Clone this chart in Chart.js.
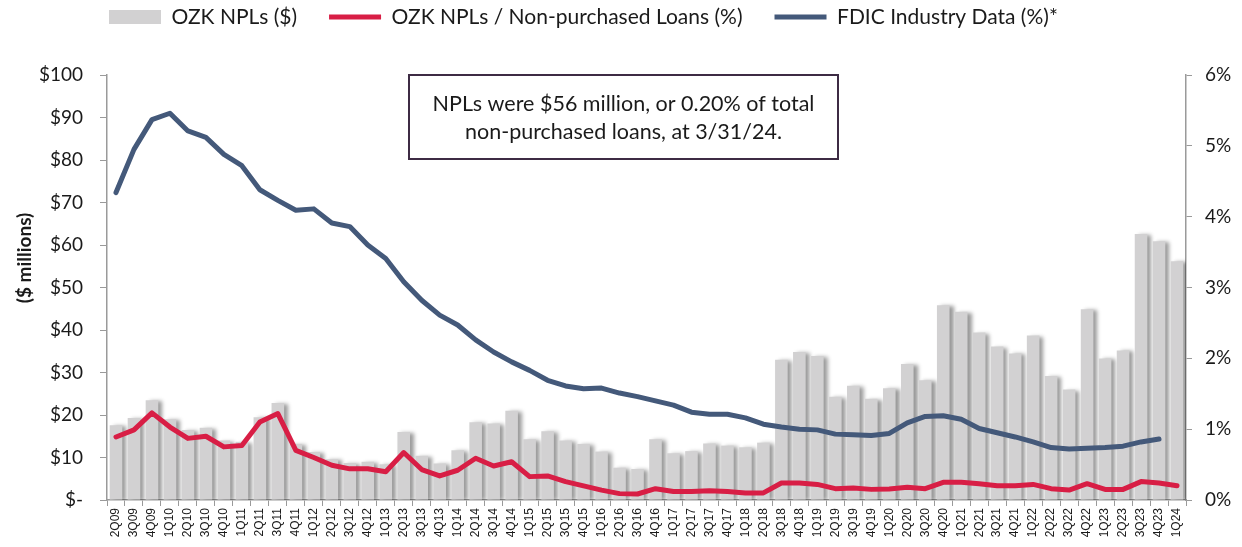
<!DOCTYPE html>
<html>
<head>
<meta charset="utf-8">
<script src="https://cdn.jsdelivr.net/npm/chart.js@4"></script>
<style>
  html, body { margin: 0; padding: 0; background: #fff; }
  #wrap { width: 1242px; height: 547px; position: relative; }
</style>
</head>
<body>
<div id="wrap"><canvas id="chart"></canvas></div>
<script>
const quarters = [
  "2Q09", "3Q09", "4Q09",
  "1Q10", "2Q10", "3Q10", "4Q10",
  "1Q11", "2Q11", "3Q11", "4Q11",
  "1Q12", "2Q12", "3Q12", "4Q12",
  "1Q13", "2Q13", "3Q13", "4Q13",
  "1Q14", "2Q14", "3Q14", "4Q14",
  "1Q15", "2Q15", "3Q15", "4Q15",
  "1Q16", "2Q16", "3Q16", "4Q16",
  "1Q17", "2Q17", "3Q17", "4Q17",
  "1Q18", "2Q18", "3Q18", "4Q18",
  "1Q19", "2Q19", "3Q19", "4Q19",
  "1Q20", "2Q20", "3Q20", "4Q20",
  "1Q21", "2Q21", "3Q21", "4Q21",
  "1Q22", "2Q22", "3Q22", "4Q22",
  "1Q23", "2Q23", "3Q23", "4Q23",
  "1Q24",
];

// OZK NPLs, $ millions
const nplDollars = [
  17.6, 19.3, 23.5,
  19.0, 16.5, 17.0, 14.0,
  13.7, 19.5, 22.8, 13.2,
  11.3, 9.6, 8.7, 9.0,
  8.4, 16.0, 10.4, 8.6,
  11.7, 18.3, 18.0, 21.0,
  14.3, 16.2, 14.0, 13.2,
  11.4, 7.6, 7.3, 14.3,
  11.0, 11.5, 13.3, 12.8,
  12.4, 13.5, 33.0, 34.8,
  33.9, 24.3, 26.9, 23.8,
  26.3, 32.0, 28.2, 45.8,
  44.3, 39.4, 36.1, 34.5,
  38.7, 29.2, 26.0, 44.9,
  33.3, 35.2, 62.6, 60.9,
  56.2,
];

// OZK NPLs / non-purchased loans, %
const nplRatio = [
  0.89, 0.99, 1.23,
  1.03, 0.87, 0.90, 0.75,
  0.77, 1.10, 1.22, 0.70,
  0.60, 0.49, 0.44, 0.44,
  0.40, 0.67, 0.43, 0.34,
  0.42, 0.59, 0.48, 0.54,
  0.33, 0.34, 0.26, 0.20,
  0.14, 0.09, 0.085, 0.16,
  0.12, 0.12, 0.13, 0.12,
  0.10, 0.10, 0.24, 0.24,
  0.22, 0.16, 0.17, 0.15,
  0.155, 0.18, 0.16, 0.25,
  0.25, 0.23, 0.20, 0.20,
  0.22, 0.16, 0.14, 0.23,
  0.15, 0.15, 0.26, 0.24,
  0.20,
];

// FDIC industry data, %
const fdicRatio = [
  4.34, 4.95, 5.37,
  5.46, 5.21, 5.12, 4.88,
  4.72, 4.38, 4.23, 4.09,
  4.11, 3.91, 3.86, 3.60,
  3.41, 3.08, 2.82, 2.61,
  2.47, 2.26, 2.09, 1.95,
  1.83, 1.69, 1.61, 1.57,
  1.58, 1.51, 1.46, 1.40,
  1.34, 1.24, 1.21, 1.21,
  1.16, 1.07, 1.03, 1.00,
  0.99, 0.93, 0.92, 0.91,
  0.94, 1.09, 1.18, 1.19,
  1.14, 1.01, 0.95, 0.89,
  0.82, 0.74, 0.72, 0.73,
  0.74, 0.76, 0.82, 0.86,
  null,
];

const noteLines = [
  "NPLs were $56 million, or 0.20% of total",
  "non-purchased loans, at 3/31/24.",
];
const yTitle = "($ millions)";

const AXIS_GREY = "#9a9a9a";
const TEXT = "#1a1a1a";
const FONT = "Lato, 'Open Sans', sans-serif";
const LEGEND_X = 109;
const LEGEND_Y = 17;
const LEGEND_FONT = 21;

// legend sits left of centre in the original, move it after layout
const legendShift = {
  id: "legendShift",
  afterLayout(chart) {
    const lg = chart.legend;
    const pad = lg.options.labels.padding;
    const w = lg.right - lg.left;
    lg.left = LEGEND_X - pad;
    lg.right = lg.left + w;
    lg.top = LEGEND_Y - pad - LEGEND_FONT / 2;
  },
};

// soft grey shadow on the right of every bar
const barShadow = {
  id: "barShadow",
  beforeDatasetDraw(chart, args) {
    if (args.index !== 0) return;
    const ctx = chart.ctx;
    ctx.save();
    ctx.shadowColor = "rgba(0,0,0,0.4)";
    ctx.shadowBlur = 4;
    ctx.shadowOffsetX = 4;
    ctx.shadowOffsetY = 1;
  },
  afterDatasetDraw(chart, args) {
    if (args.index !== 0) return;
    chart.ctx.restore();
  },
};

const noteBox = {
  id: "noteBox",
  afterDatasetsDraw(chart) {
    const { ctx, chartArea } = chart;
    const x = chartArea.left + 302;
    const y = chartArea.top;
    const w = 429;
    const h = 84;
    ctx.save();
    ctx.fillStyle = "#fff";
    ctx.fillRect(x, y, w, h);
    ctx.strokeStyle = "#3d2b44";
    ctx.lineWidth = 2;
    ctx.strokeRect(x, y, w, h);
    ctx.fillStyle = TEXT;
    ctx.font = `21.5px ${FONT}`;
    ctx.textAlign = "center";
    ctx.textBaseline = "middle";
    ctx.fillText(noteLines[0], x + w / 2, y + 29);
    ctx.fillText(noteLines[1], x + w / 2, y + 57);
    ctx.restore();
  },
};

// rotated axis title, sits a little above the axis middle in the original
const axisTitle = {
  id: "axisTitle",
  afterDraw(chart) {
    const { ctx, chartArea } = chart;
    ctx.save();
    ctx.translate(chartArea.left - 82, chartArea.top + 183);
    ctx.rotate(-Math.PI / 2);
    ctx.fillStyle = TEXT;
    ctx.font = `bold 19px ${FONT}`;
    ctx.textAlign = "center";
    ctx.textBaseline = "middle";
    ctx.fillText(yTitle, 0, 0);
    ctx.restore();
  },
};

const canvas = document.getElementById("chart");
const chart = new Chart(canvas.getContext("2d"), {
  data: {
    labels: quarters,
    datasets: [
      {
        type: "bar",
        label: "OZK NPLs ($)",
        data: nplDollars,
        yAxisID: "y",
        backgroundColor: "#d2d1d2",
        borderWidth: 0,
        categoryPercentage: 1,
        barPercentage: 0.7,
        pointStyle: "rect",
        order: 3,
      },
      {
        type: "line",
        label: "OZK NPLs / Non-purchased Loans (%)",
        data: nplRatio,
        yAxisID: "y1",
        borderColor: "#d81e45",
        backgroundColor: "#d81e45",
        borderWidth: 5,
        borderCapStyle: "round",
        borderJoinStyle: "round",
        pointRadius: 0,
        pointStyle: "line",
        tension: 0,
        order: 1,
      },
      {
        type: "line",
        label: "FDIC Industry Data (%)*",
        data: fdicRatio,
        yAxisID: "y1",
        borderColor: "#44597a",
        backgroundColor: "#44597a",
        borderWidth: 5,
        borderCapStyle: "round",
        borderJoinStyle: "round",
        pointRadius: 0,
        pointStyle: "line",
        tension: 0,
        order: 2,
      },
    ],
  },
  plugins: [legendShift, barShadow, noteBox, axisTitle],
  options: {
    responsive: true,
    maintainAspectRatio: false,
    animation: false,
    layout: { padding: { top: 12, left: 12, right: 0, bottom: 0 } },
    plugins: {
      tooltip: { enabled: false },
      legend: {
        position: "top",
        align: "start",
        labels: {
          usePointStyle: true,
          pointStyleWidth: 52,
          boxWidth: 52,
          boxHeight: 14,
          padding: 32,
          color: TEXT,
          font: { family: FONT, size: LEGEND_FONT },
          sort: (a, b) => a.datasetIndex - b.datasetIndex,
        },
      },
    },
    scales: {
      x: {
        offset: true,
        grid: {
          offset: true,
          drawOnChartArea: false,
          drawTicks: true,
          tickLength: 6,
          color: AXIS_GREY,
        },
        border: { display: true, color: AXIS_GREY, width: 1.5 },
        ticks: {
          autoSkip: false,
          maxRotation: 90,
          minRotation: 90,
          padding: 2,
          color: TEXT,
          font: { family: "'Liberation Sans', Arial, sans-serif", size: 12 },
        },
        afterFit(scale) { scale.height = 47; },
      },
      y: {
        position: "left",
        min: 0,
        max: 100,
        grid: { drawOnChartArea: false, tickLength: 7, color: AXIS_GREY },
        border: { display: true, color: AXIS_GREY, width: 1.5 },
        ticks: {
          stepSize: 10,
          padding: 17,
          color: TEXT,
          font: { family: FONT, size: 19 },
          callback: (v) => (v === 0 ? "$-" : "$" + v),
        },
        afterFit(scale) { scale.width = 95; },
      },
      y1: {
        position: "right",
        min: 0,
        max: 6,
        grid: { drawOnChartArea: false, tickLength: 6, color: AXIS_GREY },
        border: { display: true, color: AXIS_GREY, width: 1.5 },
        ticks: {
          stepSize: 1,
          padding: 13,
          color: TEXT,
          font: { family: FONT, size: 19 },
          callback: (v) => v + "%",
        },
        afterFit(scale) { scale.width = 56; },
      },
    },
  },
});
</script>
</body>
</html>
